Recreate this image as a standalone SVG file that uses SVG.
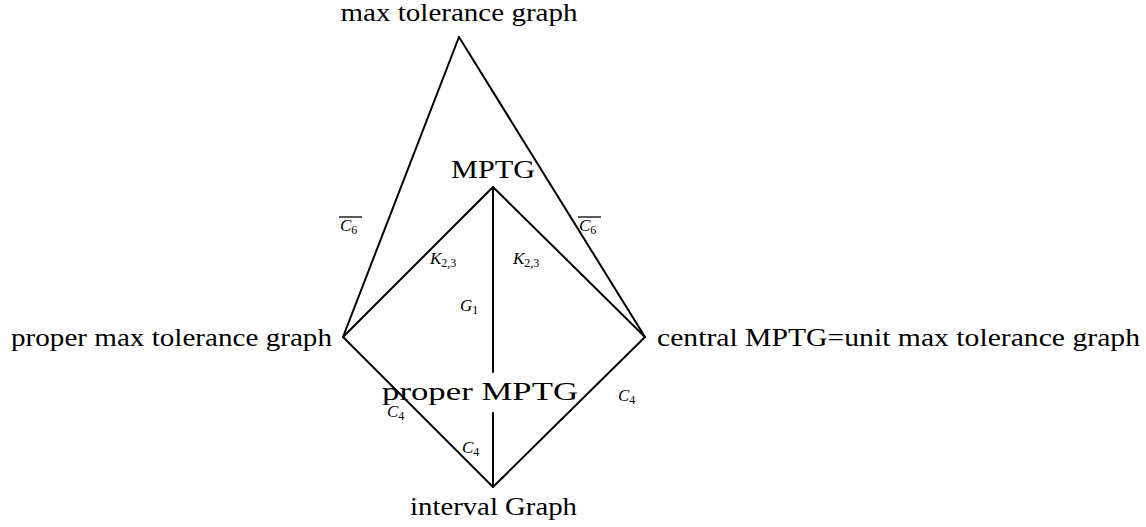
<svg xmlns="http://www.w3.org/2000/svg" width="1146" height="527" viewBox="0 0 1146 527">
<style>
.lbl{font-family:"Liberation Serif","DejaVu Serif",serif;font-size:26px;fill:#000}
.m{font-family:"Liberation Serif","DejaVu Serif",serif;font-size:17px;font-style:italic;fill:#000}
.s{font-size:12px;font-style:normal}
.e{stroke:#000;stroke-width:2;fill:none;stroke-linecap:round}
</style>
<rect width="1146" height="527" fill="#fff"/>
<g id="connectors">
<line class="e" x1="459" y1="37" x2="343" y2="337"/>
<line class="e" x1="459" y1="37" x2="645" y2="337"/>
<line class="e" x1="493" y1="187" x2="343" y2="337"/>
<line class="e" x1="493" y1="187" x2="645" y2="337"/>
<line class="e" x1="493" y1="187" x2="493" y2="372"/>
<line class="e" x1="493" y1="413" x2="493" y2="487"/>
<line class="e" x1="343" y1="337" x2="493" y2="487"/>
<line class="e" x1="645" y1="337" x2="493" y2="487"/>
</g>
<g id="edge-labels">
<text class="m" x="340" y="231">C<tspan class="s" dy="3">6</tspan></text>
<line x1="339" y1="217" x2="362" y2="217" stroke="#000" stroke-width="1.3"/>
<text class="m" x="579" y="231">C<tspan class="s" dy="3">6</tspan></text>
<line x1="578" y1="217" x2="601" y2="217" stroke="#000" stroke-width="1.3"/>
<text class="m" x="430" y="264">K<tspan class="s" dy="3">2,3</tspan></text>
<text class="m" x="513" y="264">K<tspan class="s" dy="3">2,3</tspan></text>
<text class="m" x="460" y="311">G<tspan class="s" dy="3">1</tspan></text>
<text class="m" x="387" y="417">C<tspan class="s" dy="3">4</tspan></text>
<text class="m" x="462" y="453">C<tspan class="s" dy="3">4</tspan></text>
<text class="m" x="618" y="401">C<tspan class="s" dy="3">4</tspan></text>
</g>
<g id="n-max"><text class="lbl" x="459" y="21" text-anchor="middle" textLength="237" lengthAdjust="spacingAndGlyphs">max tolerance graph</text></g>
<g id="n-mptg"><text class="lbl" x="493" y="178" text-anchor="middle" textLength="84" lengthAdjust="spacingAndGlyphs">MPTG</text></g>
<g id="n-proper"><text class="lbl" x="11" y="346" textLength="321" lengthAdjust="spacingAndGlyphs">proper max tolerance graph</text></g>
<g id="n-central"><text class="lbl" x="657" y="346" textLength="483" lengthAdjust="spacingAndGlyphs">central MPTG=unit max tolerance graph</text></g>
<g id="n-pmptg"><text class="lbl" x="382" y="400" textLength="196" lengthAdjust="spacingAndGlyphs">proper MPTG</text></g>
<g id="n-interval"><text class="lbl" x="410" y="515" textLength="167" lengthAdjust="spacingAndGlyphs">interval Graph</text></g>
</svg>
